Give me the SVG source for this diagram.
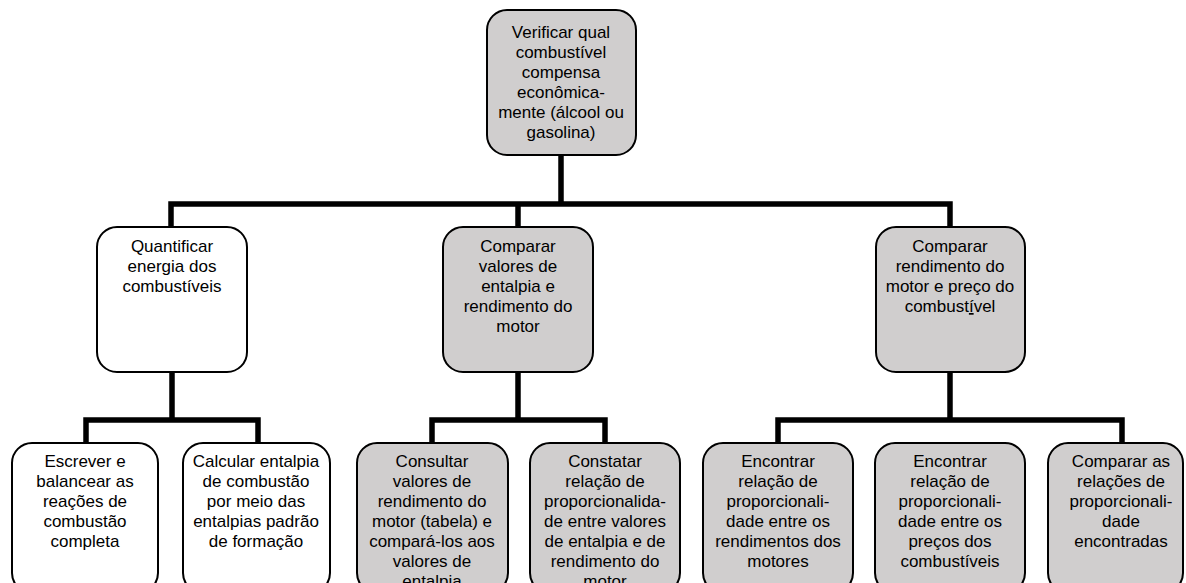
<svg xmlns="http://www.w3.org/2000/svg" width="1186" height="583" viewBox="0 0 1186 583">
<style>
.box{stroke:#000;stroke-width:2}
.g{fill:#d0cece}
.w{fill:#fff}
.c{fill:none;stroke:#000;stroke-width:5.5;stroke-linejoin:miter}
text{font-family:"Liberation Sans",Arial,sans-serif;font-size:17px;fill:#000;text-anchor:middle}
</style>
<rect width="1186" height="583" fill="#fff"/>
<g id="connectors">
<path class="c" d="M561 155V204M171 227V204H950V227M518 204V227"/>
<path class="c" d="M172 372V420M86 443V420H258V443"/>
<path class="c" d="M518 372V420M432 443V420H605V443"/>
<path class="c" d="M950 372V420M778 443V420H1122V443"/>
</g>
<g id="n0">
<rect class="box g" x="487" y="10" width="149" height="145" rx="20"/>
<text x="561" y="37.5">Verificar qual</text>
<text x="561" y="57.5">combustível</text>
<text x="561" y="77.5">compensa</text>
<text x="561" y="97.5">econômica-</text>
<text x="561" y="117.5">mente (álcool ou</text>
<text x="561" y="137.5">gasolina)</text>
</g>
<g id="n1">
<rect class="box w" x="97" y="227" width="150" height="145" rx="20"/>
<text x="172" y="252">Quantificar</text>
<text x="172" y="272">energia dos</text>
<text x="172" y="292">combustíveis</text>
</g>
<g id="n2">
<rect class="box g" x="443" y="227" width="150" height="145" rx="20"/>
<text x="518" y="252">Comparar</text>
<text x="518" y="272">valores de</text>
<text x="518" y="292">entalpia e</text>
<text x="518" y="312">rendimento do</text>
<text x="518" y="332">motor</text>
</g>
<g id="n3">
<rect class="box g" x="876" y="227" width="149" height="145" rx="20"/>
<text x="950" y="252">Comparar</text>
<text x="950" y="272">rendimento do</text>
<text x="950" y="292">motor e preço do</text>
<text x="950" y="312">combust<tspan text-decoration="underline">í</tspan>vel</text>
</g>
<g id="n4">
<rect class="box w" x="12" y="443" width="146" height="150" rx="20"/>
<text x="85" y="467">Escrever e</text>
<text x="85" y="487">balancear as</text>
<text x="85" y="507">reações de</text>
<text x="85" y="527">combustão</text>
<text x="85" y="547">completa</text>
</g>
<g id="n5">
<rect class="box w" x="183" y="443" width="147" height="150" rx="20"/>
<text x="256" y="467">Calcular entalpia</text>
<text x="256" y="487">de combustão</text>
<text x="256" y="507">por meio das</text>
<text x="256" y="527">entalpias padrão</text>
<text x="256" y="547">de formação</text>
</g>
<g id="n6">
<rect class="box g" x="357" y="443" width="151" height="150" rx="20"/>
<text x="432" y="467">Consultar</text>
<text x="432" y="487">valores de</text>
<text x="432" y="507">rendimento do</text>
<text x="432" y="527">motor (tabela) e</text>
<text x="432" y="547">compará-los aos</text>
<text x="432" y="567">valores de</text>
<text x="432" y="587">entalpia</text>
</g>
<g id="n7">
<rect class="box g" x="530" y="443" width="150" height="150" rx="20"/>
<text x="605" y="467">Constatar</text>
<text x="605" y="487">relação de</text>
<text x="605" y="507">proporcionalida-</text>
<text x="605" y="527">de entre valores</text>
<text x="605" y="547">de entalpia e de</text>
<text x="605" y="567">rendimento do</text>
<text x="605" y="587">motor</text>
</g>
<g id="n8">
<rect class="box g" x="703" y="443" width="150" height="150" rx="20"/>
<text x="778" y="467">Encontrar</text>
<text x="778" y="487">relação de</text>
<text x="778" y="507">proporcionali-</text>
<text x="778" y="527">dade entre os</text>
<text x="778" y="547">rendimentos dos</text>
<text x="778" y="567">motores</text>
</g>
<g id="n9">
<rect class="box g" x="875" y="443" width="150" height="150" rx="20"/>
<text x="950" y="467">Encontrar</text>
<text x="950" y="487">relação de</text>
<text x="950" y="507">proporcionali-</text>
<text x="950" y="527">dade entre os</text>
<text x="950" y="547">preços dos</text>
<text x="950" y="567">combustíveis</text>
</g>
<g id="n10">
<rect class="box g" x="1048" y="443" width="135" height="150" rx="20"/>
<text x="1121" y="467">Comparar as</text>
<text x="1121" y="487">relações de</text>
<text x="1121" y="507">proporcionali-</text>
<text x="1121" y="527">dade</text>
<text x="1121" y="547">encontradas</text>
</g>
</svg>
